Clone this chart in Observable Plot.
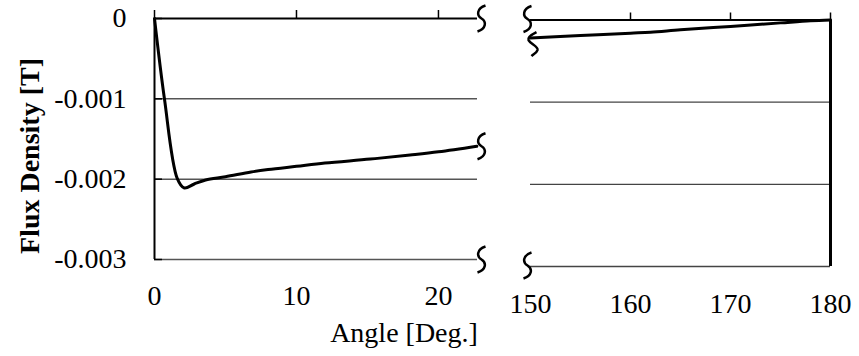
<!DOCTYPE html>
<html>
<head>
<meta charset="utf-8">
<script src="https://cdn.jsdelivr.net/npm/d3@7"></script>
<script src="https://cdn.jsdelivr.net/npm/@observablehq/plot@0.6"></script>
<style>
  body { margin: 0; background: white; }
  #chart { position: relative; width: 859px; height: 356px; }
  #chart svg { position: absolute; left: 0; top: 0; }
</style>
</head>
<body>
<div id="chart"></div>
<script>
// ---- data ----
const leftAngle = [0, 0.7, 1.6, 2.1, 2.8, 3.6, 5, 6.8, 8, 10, 12, 15.2, 18, 20, 22.7];
const leftFlux  = [0, -0.001, -0.00199, -0.00211, -0.00206, -0.00201, -0.00197, -0.00191, -0.00188, -0.00184, -0.0018, -0.00175, -0.0017, -0.00166, -0.00159];
const rightAngle = [150, 155, 160, 162, 165, 170, 175, 178, 180];
const rightFlux  = [-0.00022, -0.00019, -0.00016, -0.000148, -0.00012, -0.000078, -0.000035, -0.00001, 0];
const yTicks = [0, -0.001, -0.002, -0.003];
const yTickLabels = ["0", "-0.001", "-0.002", "-0.003"];
const leftXTicks = [0, 10, 20];
const rightXTopTicks = [160, 170, 180];
const rightXTicks = [150, 160, 170, 180];
const leftDomain = [0, 22.75];
const rightDomain = [150, 180];
const yLabel = "Flux Density [T]";
const xLabel = "Angle [Deg.]";

const leftData = leftAngle.map((a, i) => ({angle: a, flux: leftFlux[i]}));
const rightData = rightAngle.map((a, i) => ({angle: a, flux: rightFlux[i]}));
const yMin = d3.min(yTicks), yMax = d3.max(yTicks);

// break marks at the cut ends of the axis
const leftBreaks = [yMax, leftFlux[leftFlux.length - 1], yMin].map(v => ({angle: leftDomain[1], flux: v}));
const rightAxisBreaks = [yMax, yMin].map(v => ({angle: rightDomain[0], flux: v}));
const rightCurveBreak = [{angle: rightDomain[0], flux: rightFlux[0]}];

const squiggle = {
  draw(ctx) {
    ctx.moveTo(4, -13);
    ctx.bezierCurveTo(-5, -10, -5, -3, 0, 0);
    ctx.bezierCurveTo(5, 3, 5, 10, -4, 13);
  }
};
const hook = {
  draw(ctx) {
    ctx.moveTo(4, -10);
    ctx.bezierCurveTo(-2, -7, -5, -4, -4, -2);
    ctx.bezierCurveTo(-2, 2, 6, 4, 5, 8);
    ctx.bezierCurveTo(4, 11, 1, 12, -1, 14);
  }
};

const fontStyle = {
  fontFamily: "'Liberation Serif', 'Times New Roman', serif",
  fontSize: "28px",
  color: "black",
  background: "transparent",
  overflow: "visible"
};
const fmtY = d => yTickLabels[yTicks.indexOf(d)];

const left = Plot.plot({
  width: 859, height: 356,
  marginLeft: 154, marginRight: 382, marginTop: 18, marginBottom: 97,
  style: fontStyle,
  x: {domain: leftDomain, label: null},
  y: {domain: [yMin, yMax], label: null},
  marks: [
    Plot.ruleY(yTicks.filter(d => d !== 0), {stroke: "#555", strokeWidth: 1.5}),
    Plot.ruleY([0], {stroke: "black", strokeWidth: 2}),
    Plot.ruleX([0], {stroke: "black", strokeWidth: 2}),
    Plot.axisX(leftXTicks, {anchor: "top", tickSize: 9, fill: "none", label: null, strokeWidth: 1.5}),
    Plot.axisX(leftXTicks, {anchor: "bottom", tickSize: 0, tickPadding: 26, label: null}),
    Plot.axisY(yTicks, {anchor: "left", tickSize: 0, tickPadding: 28, tickFormat: fmtY, label: null}),
    Plot.axisY(yTicks, {anchor: "left", tickSize: 8, dx: 8, fill: "none", label: null, strokeWidth: 1.5}),
    Plot.line(leftData, {x: "angle", y: "flux", curve: "catmull-rom", stroke: "black", strokeWidth: 3}),
    Plot.dot(leftBreaks, {x: "angle", y: "flux", symbol: squiggle, r: 5, fill: "none", stroke: "black", strokeWidth: 2.5, dx: 4}),
    Plot.text([yLabel], {frameAnchor: "left", textAnchor: "middle", rotate: -90, dx: -124, dy: 17, fontWeight: "bold", fontSize: 28}),
    Plot.text([xLabel], {frameAnchor: "bottom", textAnchor: "middle", dx: 88, dy: 82, lineAnchor: "bottom"})
  ]
});

const right = Plot.plot({
  width: 859, height: 356,
  marginLeft: 530, marginRight: 29, marginTop: 19.5, marginBottom: 90,
  style: fontStyle,
  x: {domain: rightDomain, label: null},
  y: {domain: [yMin, yMax], label: null, axis: null},
  marks: [
    Plot.ruleY(yTicks.filter(d => d !== 0), {stroke: "#444", strokeWidth: 1.3}),
    Plot.ruleY([0], {stroke: "black", strokeWidth: 2}),
    Plot.ruleX([rightDomain[1]], {stroke: "black", strokeWidth: 3}),
    Plot.axisX(rightXTopTicks, {anchor: "top", tickSize: 8, fill: "none", label: null, strokeWidth: 1.5}),
    Plot.axisX(rightXTicks, {anchor: "bottom", tickSize: 0, tickPadding: 27, label: null}),
    Plot.line(rightData, {x: "angle", y: "flux", curve: "catmull-rom", stroke: "black", strokeWidth: 3}),
    Plot.dot(rightAxisBreaks, {x: "angle", y: "flux", symbol: squiggle, r: 5, fill: "none", stroke: "black", strokeWidth: 2.5, dx: -3, dy: -1}),
    Plot.dot(rightCurveBreak, {x: "angle", y: "flux", symbol: hook, r: 5, fill: "none", stroke: "black", strokeWidth: 2.5, dx: 2, dy: 4})
  ]
});

document.getElementById("chart").append(left, right);
</script>
</body>
</html>
